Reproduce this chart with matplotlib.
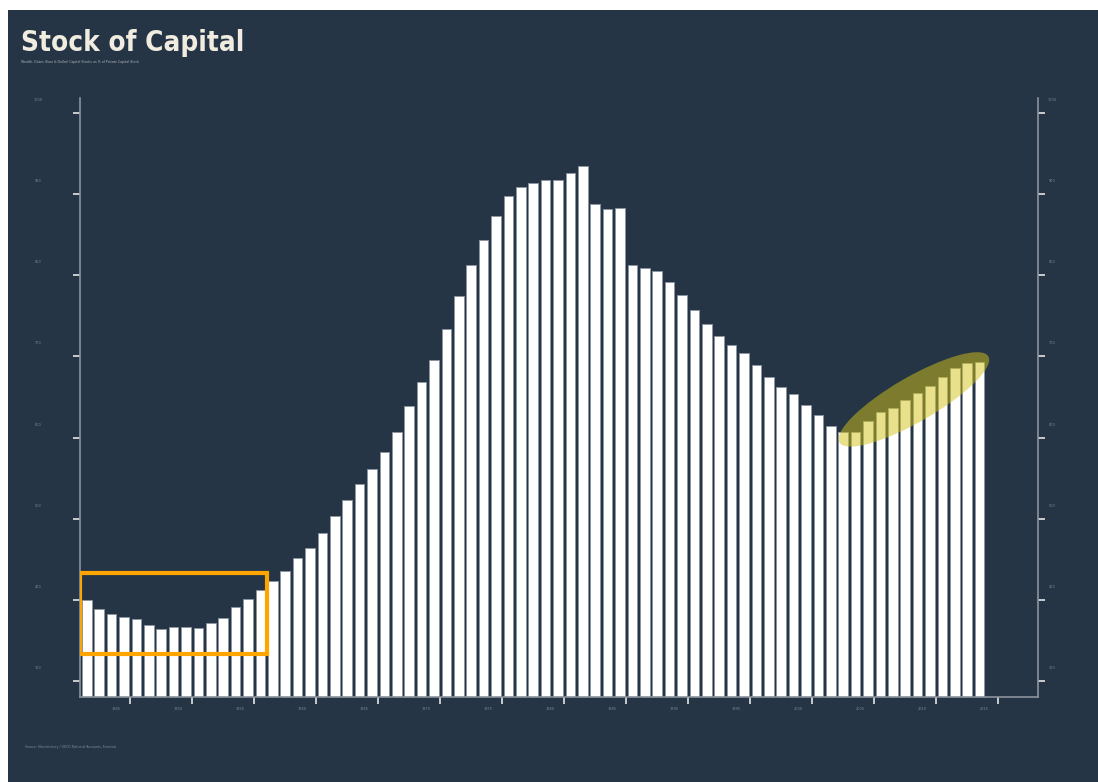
import numpy as np
import matplotlib.pyplot as plt
from matplotlib.patches import Rectangle, Ellipse
from matplotlib.transforms import ScaledTranslation

# capital stock, one bar per year
years = list(range(1941, 2014))
capital = [400.0, 388.5, 382.7, 378.6, 376.2, 369.1, 363.8, 367.0, 366.3, 365.4,
           371.2, 377.4, 391.7, 400.9, 412.3, 423.5, 435.8, 451.0, 464.2, 482.7,
           503.7, 523.5, 542.8, 561.7, 581.9, 606.5, 639.1, 667.9, 695.1, 733.3,
           774.1, 813.2, 843.6, 872.8, 897.9, 908.3, 913.9, 917.3, 917.3, 925.9,
           934.2, 887.7, 881.5, 882.7, 812.3, 808.6, 804.9, 791.4, 775.3, 756.8,
           739.5, 724.7, 713.6, 703.7, 688.9, 674.1, 661.7, 653.1, 640.7, 627.2,
           614.8, 607.4, 607.4, 619.8, 630.9, 637.0, 645.7, 654.3, 663.0, 674.1,
           685.2, 691.4, 692.6]
highlight_from = 2002   # years drawn under the yellow ellipse
box_years = (1941, 1955)
box_values = (333, 433)

y_ticks = [300, 400, 500, 600, 700, 800, 900, 1000]
y_labels = ['300', '400', '500', '600', '700', '800', '900', '1000']
x_tick_years = list(range(1945, 2016, 5))
x_labels = [str(y) for y in x_tick_years]

bg = '#263545'
cream = '#f0ece0'
faint = '#7d8792'

fig = plt.figure(figsize=(10.98, 7.82), dpi=100)
fig.patch.set_facecolor('white')
fig.patches.append(Rectangle((8 / 1098, 0), 1, 1 - 10 / 782, transform=fig.transFigure,
                             facecolor=bg, edgecolor='none', zorder=-10))

ax = fig.add_axes([80 / 1098, 85 / 782, 958 / 1098, 599 / 782])
ax.set_facecolor('none')

x = np.array([y - years[0] for y in years])
vals = np.array(capital)
ymin, ymax = 280.2, 1018.5
ax.bar(x, vals - ymin, bottom=ymin, width=0.77, color='white',
       edgecolor='#8d96a0', linewidth=0.6, zorder=2)

ax.set_xlim(-0.548, 76.71)
ax.set_ylim(ymin, ymax)

# orange box on the early years
bx0 = box_years[0] - years[0] - 0.55
bx1 = box_years[1] - years[0] + 0.55
ax.add_patch(Rectangle((bx0, box_values[0]), bx1 - bx0, box_values[1] - box_values[0],
                       fill=False, edgecolor='#ffa500', linewidth=3, zorder=4))

# yellow ellipse over the recent years
hx = x[[y >= highlight_from for y in years]]
hv = vals[[y >= highlight_from for y in years]]
cx = (hx[0] + hx[-1]) / 2 + 0.2
cy = (hv[0] + hv[-1]) / 2 - 3
ell = Ellipse((0, 0), 1.72, 0.45, angle=30,
              transform=fig.dpi_scale_trans + ScaledTranslation(cx, cy, ax.transData),
              facecolor='#d2c218', edgecolor='none', alpha=0.5, zorder=3)
ax.add_patch(ell)

ax.spines['top'].set_visible(False)
for s in ['left', 'right', 'bottom']:
    ax.spines[s].set_color('#8a929c')
    ax.spines[s].set_linewidth(1.2)

ax.set_yticks(y_ticks)
ax.set_yticklabels([])
ax.tick_params(axis='y', which='both', left=True, right=True, direction='out',
               length=5, width=1.2, color='#e6e6e6')
xt = [t - years[0] - 0.5 for t in x_tick_years]
ax.set_xticks(xt)
ax.set_xticklabels([])
ax.tick_params(axis='x', direction='out', length=5, width=1.2, color='#e6e6e6')

# tiny tick labels, offset like the original
for t, lab in zip(xt, x_labels):
    ax.annotate(lab, (t, ymin), xytext=(-14, -12), textcoords='offset pixels',
                fontsize=2.5, color=faint, ha='center', va='center', annotation_clip=False)
for t, lab in zip(y_ticks, y_labels):
    ax.annotate(lab, (0, t), xycoords=('axes fraction', 'data'), xytext=(-42, 13),
                textcoords='offset pixels', fontsize=2.5, color=faint,
                ha='center', va='center', annotation_clip=False)
    ax.annotate(lab, (1, t), xycoords=('axes fraction', 'data'), xytext=(14, 13),
                textcoords='offset pixels', fontsize=2.5, color=faint,
                ha='center', va='center', annotation_clip=False)

fig.text(21 / 1098, 1 - 43 / 782, 'Stock of Capital', fontsize=20, fontweight='bold',
         fontstretch='condensed', color=cream, family='DejaVu Sans', ha='left', va='center')
fig.text(21 / 1098, 1 - 62 / 782,
         'Wealth, Dates (Euro & Dollar) Capital Stocks as % of Private Capital Stock',
         fontsize=2.3, color='#aab0b8', ha='left', va='center')
fig.text(25 / 1098, 1 - 747 / 782, 'Source: Macrohistory / OECD National Accounts, Eurostat',
         fontsize=2.3, color=faint, ha='left', va='center')

fig.savefig('out.png', dpi=100, facecolor=fig.get_facecolor())
